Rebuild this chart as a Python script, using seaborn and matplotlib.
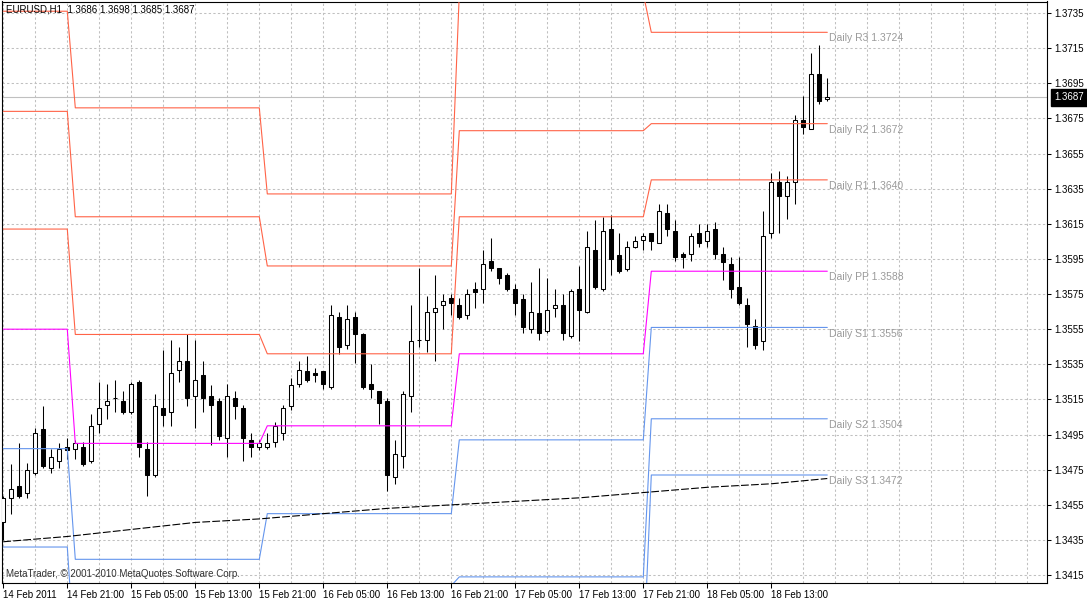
import numpy as np
import pandas as pd
import matplotlib
matplotlib.use("Agg")
import matplotlib.pyplot as plt
import matplotlib.ticker as mticker
import seaborn as sns

# ---------------- data ----------------
opens = [1.3445, 1.3459, 1.3466, 1.3462, 1.3473, 1.3498, 1.3476, 1.3480, 1.3488, 1.3487,
         1.3488, 1.3480, 1.3501, 1.3512, 1.3516, 1.3514, 1.3508, 1.3525, 1.3487, 1.3472,
         1.3510, 1.3508, 1.3532, 1.3537, 1.3517, 1.3529, 1.3517, 1.3514, 1.3493, 1.3516,
         1.3510, 1.3492, 1.3488, 1.3488, 1.3491, 1.3496, 1.3511, 1.3524, 1.3531, 1.3530,
         1.3531, 1.3522, 1.3562, 1.3546, 1.3562, 1.3552, 1.3524, 1.3520, 1.3514, 1.3471,
         1.3483, 1.3517, 1.3549, 1.3549, 1.3565, 1.3569, 1.3573, 1.3569, 1.3563, 1.3578,
         1.3578, 1.3594, 1.3590, 1.3586, 1.3578, 1.3572, 1.3555, 1.3564, 1.3554, 1.3567,
         1.3569, 1.3551, 1.3578, 1.3565, 1.3600, 1.3578, 1.3612, 1.3597, 1.3589, 1.3602,
         1.3606, 1.3610, 1.3604, 1.3621, 1.3611, 1.3598, 1.3598, 1.3610, 1.3605, 1.3612,
         1.3598, 1.3592, 1.3579, 1.3569, 1.3557, 1.3548, 1.3610, 1.3639, 1.3631, 1.3639,
         1.3674, 1.3669, 1.3700, 1.3686]
highs = [1.3460, 1.3478, 1.3490, 1.3479, 1.3499, 1.3511, 1.3487, 1.3490, 1.3493, 1.3492,
         1.3491, 1.3507, 1.3525, 1.3524, 1.3526, 1.3520, 1.3525, 1.3526, 1.3491, 1.3518,
         1.3543, 1.3549, 1.3545, 1.3552, 1.3549, 1.3537, 1.3523, 1.3516, 1.3524, 1.3520,
         1.3512, 1.3496, 1.3492, 1.3496, 1.3502, 1.3512, 1.3527, 1.3537, 1.3540, 1.3533,
         1.3531, 1.3569, 1.3565, 1.3569, 1.3565, 1.3553, 1.3535, 1.3520, 1.3516, 1.3492,
         1.3520, 1.3569, 1.3590, 1.3574, 1.3586, 1.3575, 1.3575, 1.3573, 1.3578, 1.3582,
         1.3600, 1.3607, 1.3590, 1.3587, 1.3581, 1.3575, 1.3582, 1.3590, 1.3584, 1.3578,
         1.3575, 1.3578, 1.3591, 1.3611, 1.3617, 1.3619, 1.3620, 1.3610, 1.3605, 1.3608,
         1.3610, 1.3610, 1.3626, 1.3626, 1.3617, 1.3599, 1.3610, 1.3615, 1.3615, 1.3616,
         1.3602, 1.3596, 1.3596, 1.3573, 1.3561, 1.3622, 1.3644, 1.3645, 1.3642, 1.3677,
         1.3688, 1.3712, 1.3717, 1.3698]
lows = [1.3435, 1.3450, 1.3459, 1.3459, 1.3472, 1.3476, 1.3473, 1.3476, 1.3481, 1.3481,
        1.3477, 1.3479, 1.3496, 1.3504, 1.3508, 1.3507, 1.3507, 1.3482, 1.3460, 1.3471,
        1.3500, 1.3500, 1.3525, 1.3511, 1.3499, 1.3508, 1.3489, 1.3492, 1.3482, 1.3504,
        1.3480, 1.3482, 1.3486, 1.3487, 1.3488, 1.3492, 1.3509, 1.3522, 1.3525, 1.3525,
        1.3521, 1.3521, 1.3541, 1.3544, 1.3536, 1.3521, 1.3516, 1.3501, 1.3463, 1.3467,
        1.3476, 1.3508, 1.3545, 1.3542, 1.3537, 1.3555, 1.3563, 1.3561, 1.3561, 1.3567,
        1.3570, 1.3588, 1.3581, 1.3577, 1.3563, 1.3553, 1.3553, 1.3549, 1.3553, 1.3562,
        1.3549, 1.3550, 1.3548, 1.3564, 1.3578, 1.3577, 1.3586, 1.3587, 1.3588, 1.3601,
        1.3600, 1.3600, 1.3604, 1.3608, 1.3594, 1.3590, 1.3594, 1.3602, 1.3602, 1.3595,
        1.3583, 1.3573, 1.3569, 1.3545, 1.3544, 1.3543, 1.3607, 1.3610, 1.3618, 1.3626,
        1.3666, 1.3669, 1.3683, 1.3685]
closes = [1.3459, 1.3464, 1.3460, 1.3475, 1.3496, 1.3477, 1.3482, 1.3487, 1.3486, 1.3490,
          1.3478, 1.3500, 1.3510, 1.3514, 1.3516, 1.3508, 1.3524, 1.3488, 1.3472, 1.3511,
          1.3506, 1.3530, 1.3537, 1.3516, 1.3526, 1.3516, 1.3512, 1.3494, 1.3517, 1.3511,
          1.3493, 1.3488, 1.3490, 1.3490, 1.3500, 1.3510, 1.3523, 1.3532, 1.3526, 1.3529,
          1.3524, 1.3563, 1.3545, 1.3561, 1.3552, 1.3522, 1.3521, 1.3513, 1.3472, 1.3484,
          1.3518, 1.3548, 1.3549, 1.3565, 1.3567, 1.3571, 1.3570, 1.3562, 1.3575, 1.3576,
          1.3592, 1.3590, 1.3584, 1.3578, 1.3570, 1.3556, 1.3565, 1.3553, 1.3566, 1.3569,
          1.3553, 1.3577, 1.3566, 1.3602, 1.3579, 1.3611, 1.3595, 1.3588, 1.3602, 1.3605,
          1.3608, 1.3605, 1.3622, 1.3612, 1.3596, 1.3596, 1.3608, 1.3604, 1.3611, 1.3598,
          1.3593, 1.3578, 1.3570, 1.3558, 1.3546, 1.3608, 1.3639, 1.3631, 1.3639, 1.3674,
          1.3670, 1.3700, 1.3685, 1.3687]

# daily pivot levels (one value per trading day) and the first bar of each day
day_start = [0, 9, 33, 57, 81]
pivot_r3 = [1.3736, 1.3681, 1.3632, 1.3746, 1.3724]
pivot_r2 = [1.3679, 1.3619, 1.3591, 1.3668, 1.3672]
pivot_r1 = [1.3612, 1.3552, 1.3541, 1.3619, 1.3640]
pivot_pp = [1.3555, 1.3490, 1.3500, 1.3541, 1.3588]
pivot_s1 = [1.3487, 1.3424, 1.3450, 1.3492, 1.3556]
pivot_s2 = [1.3431, 1.3362, 1.3409, 1.3414, 1.3504]
pivot_s3 = [1.3362, 1.3296, 1.3359, 1.3365, 1.3472]

# slow moving average, read at a few bars
ma_bars = [0, 8, 16, 24, 32, 40, 48, 56, 64, 72, 80, 88, 96, 103]
ma_values = [1.3434, 1.3437, 1.3441, 1.3445, 1.3447, 1.3450, 1.3453, 1.3455,
             1.3457, 1.3459, 1.3462, 1.3465, 1.3467, 1.3470]

time_label_bars = [0, 8, 16, 24, 32, 40, 48, 56, 64, 72, 80, 88, 96]
time_labels = ["14 Feb 2011", "14 Feb 21:00", "15 Feb 05:00", "15 Feb 13:00",
               "15 Feb 21:00", "16 Feb 05:00", "16 Feb 13:00", "16 Feb 21:00",
               "17 Feb 05:00", "17 Feb 13:00", "17 Feb 21:00", "18 Feb 05:00",
               "18 Feb 13:00"]
price_ticks = [1.3415, 1.3435, 1.3455, 1.3475, 1.3495, 1.3515, 1.3535, 1.3555, 1.3575,
               1.3595, 1.3615, 1.3635, 1.3655, 1.3675, 1.3695, 1.3715, 1.3735]
symbol_title = "EURUSD,H1  1.3686 1.3698 1.3685 1.3687"
copyright_text = "MetaTrader, \u00a9 2001-2010 MetaQuotes Software Corp."
current_price = 1.3687

# ---------------- style ----------------
sns.set_theme(style="white")
plt.rcParams["font.family"] = ["Liberation Sans", "DejaVu Sans"]

W, H = 1087, 600
fig = plt.figure(figsize=(W / 100, H / 100), dpi=100)
ax_left, ax_right, ax_top, ax_bottom = 2.3, 1047.0, 1.5, 583.0
ax = fig.add_axes([ax_left / W, 1 - ax_bottom / H, (ax_right - ax_left) / W,
                   (ax_bottom - ax_top) / H])
ax.set_facecolor("white")

n = len(opens)
bars = np.arange(n)
o = np.array(opens); h = np.array(highs); l = np.array(lows); c = np.array(closes)

# ---------------- candles ----------------
ax.vlines(bars, l, h, color="black", linewidth=0.75, zorder=3)
up = c >= o
body_bottom = np.minimum(o, c)
body_height = np.abs(c - o)
ax.bar(bars[up], body_height[up], bottom=body_bottom[up], width=0.5,
       color="white", edgecolor="black", linewidth=0.75, zorder=4)
ax.bar(bars[~up], body_height[~up], bottom=body_bottom[~up], width=0.5,
       color="black", edgecolor="black", linewidth=0.75, zorder=4)

# ---------------- pivot lines ----------------
day_idx = np.searchsorted(day_start, bars, side="right") - 1
levels = {"R3": pivot_r3, "R2": pivot_r2, "R1": pivot_r1, "PP": pivot_pp,
          "S1": pivot_s1, "S2": pivot_s2, "S3": pivot_s3}
rows = []
for name, vals in levels.items():
    for b in bars:
        rows.append({"bar": b, "level": name, "value": vals[day_idx[b]]})
piv = pd.DataFrame(rows)
palette = {"R3": "#ff6347", "R2": "#ff6347", "R1": "#ff6347", "PP": "#ff00ff",
           "S1": "#6495ed", "S2": "#6495ed", "S3": "#6495ed"}
sns.lineplot(data=piv, x="bar", y="value", hue="level", palette=palette,
             legend=False, linewidth=0.8, estimator=None, ax=ax, zorder=5)

# moving average
sns.lineplot(x=ma_bars, y=ma_values, color="black", linewidth=0.8,
             linestyle=(0, (7, 2)), estimator=None, ax=ax, zorder=5)

# current price line
ax.axhline(current_price, color="#c0c0c0", linewidth=0.8, zorder=2)

# pivot labels for the last day
for name, vals in levels.items():
    ax.annotate(f"Daily {name} {vals[-1]:.4f}", xy=(n - 1, vals[-1]),
                xytext=(1.5, -0.8), textcoords="offset points", va="top", ha="left",
                fontsize=7.5, color="#9a9a9a", zorder=6)

# ---------------- axes ----------------
ax.set_xlim(-0.125, 130.4625)
ax.set_ylim(1.341052, 1.374154)

ax.set_xticks(time_label_bars)
ax.set_xticklabels(time_labels, ha="left")
ax.xaxis.set_minor_locator(mticker.FixedLocator(list(range(0, 131, 4))))
ax.tick_params(axis="x", which="major", direction="out", length=3.5, width=0.75,
               pad=1.5, labelsize=7, colors="black", bottom=True)
ax.tick_params(axis="x", which="minor", length=0)

ax.yaxis.tick_right()
ax.set_yticks(price_ticks)
ax.set_yticklabels([f"{v:.4f}" for v in price_ticks])
ax.tick_params(axis="y", which="major", direction="out", length=3, width=0.75,
               pad=2.5, labelsize=7, colors="black", right=True, left=False)

ax.grid(True, which="major", axis="y", color="#c0c0c0", linestyle=(0, (2.2, 2.2)),
        linewidth=0.75)
ax.grid(True, which="both", axis="x", color="#c0c0c0", linestyle=(0, (2.2, 2.2)),
        linewidth=0.75)
ax.set_axisbelow(True)
ax.set_xlabel("")
ax.set_ylabel("")
for sp in ax.spines.values():
    sp.set_color("black")
    sp.set_linewidth(0.8)
    sp.set_visible(True)

# current price tag on the price scale
ax.annotate(f"{current_price:.4f}", xy=(1.0, current_price),
            xycoords=("axes fraction", "data"), xytext=(5.6, 0),
            textcoords="offset points", va="center", ha="left", fontsize=7,
            color="white", annotation_clip=False,
            bbox=dict(boxstyle="square,pad=0.35", fc="black", ec="black"))

fig.text(6 / W, 1 - 10 / H, symbol_title, fontsize=7, color="black", va="center",
         ha="left")
fig.text(6 / W, 1 - 574 / H, copyright_text, fontsize=7, color="#333333",
         va="center", ha="left")

fig.savefig("out.png", dpi=100, facecolor="white")
